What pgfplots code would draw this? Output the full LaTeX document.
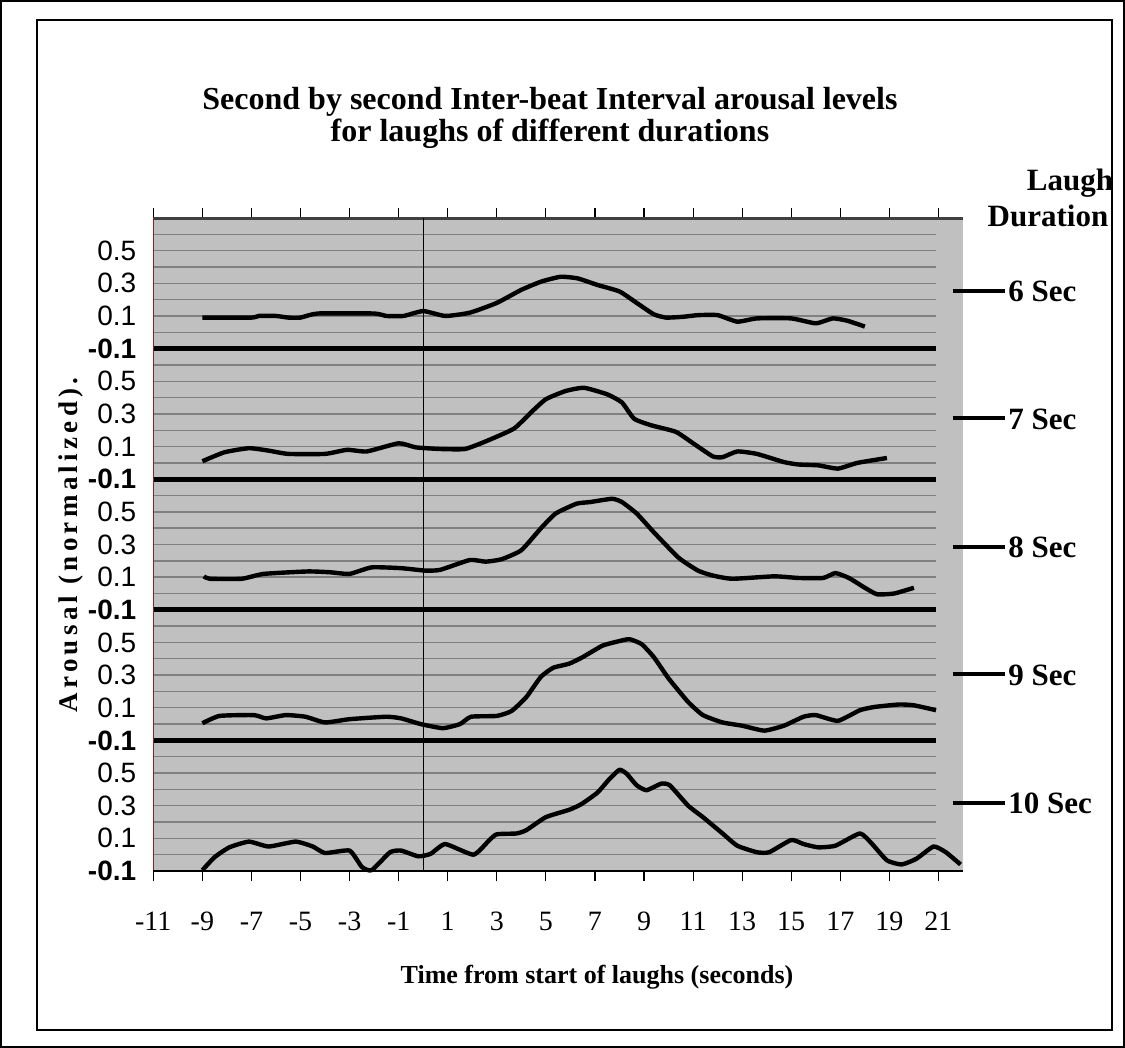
\documentclass[border=0pt]{standalone}
\usepackage{fontspec}
\setmainfont{Liberation Serif}
\setsansfont{Liberation Sans}
\usepackage{pgfplots}
\pgfplotsset{compat=1.18}
\usepackage{pgfplotstable}

\definecolor{plotgray}{RGB}{192,192,192}
\definecolor{gridgray}{RGB}{128,128,128}
\definecolor{axred}{RGB}{150,30,30}

\pgfplotstableread{
x v
-9.0 0.09
-7.0 0.09
-6.7 0.10
-6.0 0.10
-5.5 0.09
-5.0 0.09
-4.3 0.115
-2.0 0.115
-1.5 0.10
-0.8 0.10
0.0 0.13
0.9 0.10
1.9 0.12
3.0 0.18
4.0 0.26
4.8 0.31
5.6 0.34
6.3 0.33
7.1 0.29
8.0 0.25
8.7 0.18
9.4 0.11
9.9 0.09
10.6 0.095
11.2 0.105
12.0 0.105
12.8 0.065
13.6 0.085
15.0 0.085
16.0 0.055
16.7 0.085
17.3 0.07
18.0 0.035
}\sixsec

\pgfplotstableread{
x v
-9.0 0.01
-8.1 0.065
-7.1 0.09
-6.3 0.075
-5.5 0.055
-4.0 0.055
-3.1 0.08
-2.3 0.07
-1.0 0.12
-0.3 0.095
0.7 0.085
1.7 0.085
2.6 0.135
3.7 0.21
4.4 0.31
5.0 0.39
5.8 0.44
6.55 0.46
7.5 0.42
8.1 0.37
8.6 0.27
9.3 0.23
10.3 0.19
11.0 0.12
11.8 0.04
12.2 0.035
12.8 0.07
13.6 0.055
14.7 0.005
15.3 -0.01
16.1 -0.015
16.9 -0.035
17.7 0.0
18.9 0.03
}\sevensec

\pgfplotstableread{
x v
-8.94 0.105
-8.7 0.09
-7.4 0.09
-6.5 0.12
-4.7 0.135
-3.8 0.13
-3.0 0.12
-2.1 0.16
-0.9 0.155
0.1 0.14
0.7 0.145
1.9 0.205
2.55 0.195
3.2 0.21
4.0 0.265
4.8 0.40
5.4 0.49
6.25 0.55
6.8 0.56
7.7 0.58
8.1 0.56
8.7 0.49
9.4 0.375
10.4 0.22
11.2 0.14
11.8 0.11
12.6 0.09
14.3 0.105
15.3 0.095
16.3 0.095
16.8 0.125
17.35 0.095
18.0 0.035
18.5 -0.005
19.2 0.0
20.0 0.035
}\eightsec

\pgfplotstableread{
x v
-9.0 0.005
-8.3 0.05
-6.9 0.055
-6.4 0.035
-5.6 0.055
-4.8 0.045
-4.0 0.01
-3.0 0.03
-1.5 0.045
-0.9 0.035
-0.1 0.0
0.8 -0.025
1.5 0.0
1.95 0.045
3.0 0.05
3.6 0.08
4.2 0.165
4.8 0.29
5.3 0.345
5.95 0.37
6.5 0.41
7.3 0.48
7.9 0.505
8.4 0.52
8.9 0.49
9.4 0.41
10.0 0.28
10.8 0.135
11.4 0.055
12.2 0.01
13.0 -0.01
13.9 -0.04
14.7 -0.01
15.5 0.045
16.0 0.055
16.9 0.02
17.8 0.085
18.4 0.105
19.4 0.12
20.0 0.115
20.9 0.085
}\ninesec

\pgfplotstableread{
x v
-9.0 -0.095
-8.5 -0.015
-7.9 0.045
-7.1 0.08
-6.3 0.05
-5.2 0.08
-4.5 0.05
-4.0 0.01
-3.0 0.025
-2.5 -0.075
-2.1 -0.095
-1.35 0.015
-0.9 0.025
-0.2 -0.01
0.3 0.005
0.9 0.065
2.05 0.0
2.7 0.09
3.0 0.125
3.8 0.13
4.2 0.15
5.0 0.23
5.95 0.275
6.45 0.31
7.1 0.38
7.6 0.465
8.0 0.52
8.3 0.495
8.7 0.425
9.1 0.395
9.7 0.435
10.05 0.425
10.8 0.30
11.4 0.23
12.2 0.13
12.8 0.055
13.6 0.015
14.1 0.015
15.0 0.09
15.5 0.065
16.1 0.045
16.8 0.055
17.8 0.13
18.3 0.065
18.9 -0.035
19.5 -0.06
20.1 -0.025
20.8 0.05
21.3 0.015
21.9 -0.06
}\tensec

\begin{document}
\begin{tikzpicture}
\begin{scope}[x=0.5pt,y=-0.5pt]
\useasboundingbox (0,0) rectangle (1125,1048);
\draw[black, line width=0.8pt] (1,1) rectangle (1124,1047);
\draw[black, line width=0.8pt] (37,20) rectangle (1112,1030);
\end{scope}

\begin{axis}[
  at={(76.65pt,-435.5pt)}, anchor=south west,
  scale only axis, width=404.85pt, height=326.5pt,
  xmin=-11, xmax=22, ymin=0, ymax=4,
  clip=false,
  axis line style={draw=none},
  axis background/.style={fill=plotgray},
  tick align=outside,
  major tick length=5pt,
  xtick={-11,-9,...,21},
  xticklabels={-11,-9,-7,-5,-3,-1,1,3,5,7,9,11,13,15,17,19,21},
  xtick style={black, line width=0.6pt},
  xticklabel style={font=\fontsize{14}{14}\selectfont, yshift=-12pt},
  ytick={0,0.2,0.4,0.6,0.8,1.0,1.2,1.4,1.6,1.8,2.0,2.2,2.4,2.6,2.8,3.0,3.2,3.4,3.6,3.8},
  yticklabels={\textbf{-0.1},0.1,0.3,0.5,\textbf{-0.1},0.1,0.3,0.5,\textbf{-0.1},0.1,0.3,0.5,\textbf{-0.1},0.1,0.3,0.5,\textbf{-0.1},0.1,0.3,0.5},
  ytick style={draw=none},
  yticklabel style={font=\fontsize{14}{14}\selectfont\sffamily},
]
\pgfplotsinvokeforeach{0.1,0.2,0.3,0.4,0.5,0.6,0.7,0.9,1.0,1.1,1.2,1.3,1.4,1.5,1.7,1.8,1.9,2.0,2.1,2.2,2.3,2.5,2.6,2.7,2.8,2.9,3.0,3.1,3.3,3.4,3.5,3.6,3.7,3.8,3.9}{
  \draw[gridgray, line width=0.7pt] (axis cs:-11,#1) -- (axis cs:20.9,#1);
}
\pgfplotsinvokeforeach{0.8,1.6,2.4,3.2}{
  \draw[black, line width=2.5pt] (axis cs:-11,#1) -- (axis cs:20.9,#1);
}
\draw[black!75, line width=1.5pt] (axis cs:-11,4) -- (axis cs:22,4);
\draw[black, line width=0.7pt] (axis cs:0,0) -- (axis cs:0,4);
\draw[axred, line width=0.6pt] (axis cs:-11,0) -- (axis cs:-11,4);
\draw[black, line width=0.6pt] (axis cs:-11,0) -- (axis cs:22,0);

\addplot[black, line width=2.2pt, smooth, tension=0.3, line join=round] table[x=x, y expr=\thisrow{v}+3.3] {\sixsec};
\addplot[black, line width=2.2pt, smooth, tension=0.3, line join=round] table[x=x, y expr=\thisrow{v}+2.5] {\sevensec};
\addplot[black, line width=2.2pt, smooth, tension=0.3, line join=round] table[x=x, y expr=\thisrow{v}+1.7] {\eightsec};
\addplot[black, line width=2.2pt, smooth, tension=0.3, line join=round] table[x=x, y expr=\thisrow{v}+0.9] {\ninesec};
\addplot[black, line width=2.2pt, smooth, tension=0.3, line join=round] table[x=x, y expr=\thisrow{v}+0.1] {\tensec};
\end{axis}

\begin{scope}[x=0.5pt,y=-0.5pt]
\node[font=\fontsize{16}{16}\selectfont\bfseries, align=center] at (550,118) {Second by second Inter-beat Interval arousal levels\\for laughs of different durations};
\node[font=\fontsize{15.5}{16}\selectfont\bfseries] at (1070,183) {Laugh};
\node[font=\fontsize{15.5}{16}\selectfont\bfseries] at (1048,216) {Duration};
\node[font=\fontsize{13}{13}\selectfont\bfseries] at (597,977) {Time from start of laughs (seconds)};
\node[font=\fontsize{13.5}{13.5}\selectfont\bfseries\addfontfeature{LetterSpace=16}, rotate=90] at (71,545) {Arousal (normalized).};
\foreach \py/\lab in {290.7/6 Sec, 418.3/7 Sec, 546.7/8 Sec, 674/9 Sec, 802.7/10 Sec}{
  \draw[black, line width=2pt] (952.7,\py) -- (1005,\py);
  \node[anchor=base west, inner sep=0, font=\fontsize{15.5}{15.5}\selectfont\bfseries] at (1008,\py+11) {\lab};
}
\end{scope}
\end{tikzpicture}
\end{document}
